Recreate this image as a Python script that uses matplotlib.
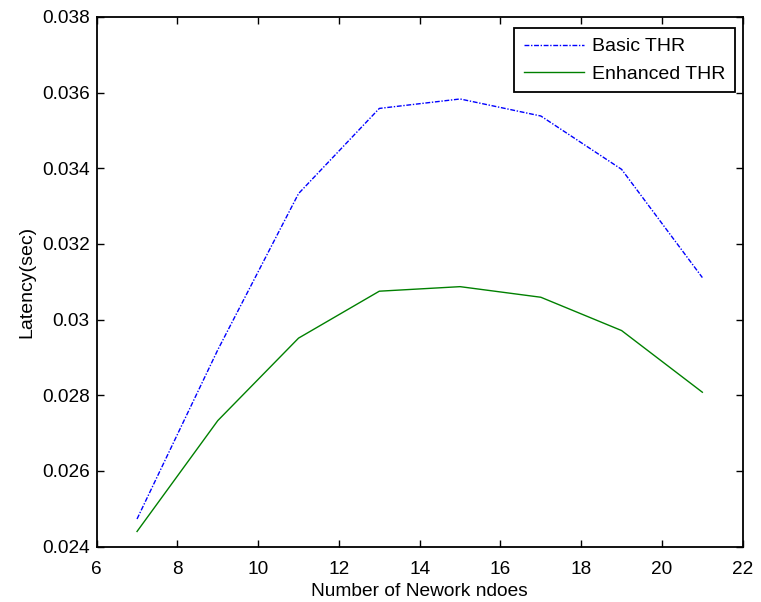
import matplotlib
matplotlib.use("Agg")
import matplotlib.pyplot as plt

plt.rcParams['font.family'] = ['Liberation Sans', 'DejaVu Sans']

# data
nodes = [7, 9, 11, 13, 15, 17, 19, 21]
basic_thr = [0.02473, 0.0292, 0.03333, 0.03558, 0.03583, 0.03538, 0.03397, 0.03111]
enhanced_thr = [0.0244, 0.02733, 0.02951, 0.03075, 0.03087, 0.03059, 0.02971, 0.02808]

xticks = [6, 8, 10, 12, 14, 16, 18, 20, 22]
yticks = [0.024, 0.026, 0.028, 0.03, 0.032, 0.034, 0.036, 0.038]
ytick_labels = ['0.024', '0.026', '0.028', '0.03', '0.032', '0.034', '0.036', '0.038']

fig = plt.figure(figsize=(7.61, 6.02), dpi=100)
ax = fig.add_axes([0.127, 0.092, 0.849, 0.880])

ax.plot(nodes, basic_thr, color='blue', linestyle='-.', dashes=(3.5, 1.2, 1, 1.2),
        linewidth=1.0, label='Basic THR')
ax.plot(nodes, enhanced_thr, color=(0, 0.5, 0), linestyle='-', linewidth=1.0,
        label='Enhanced THR')

ax.set_xlim(6, 22)
ax.set_ylim(0.024, 0.038)
ax.set_xticks(xticks)
ax.set_yticks(yticks)
ax.set_yticklabels(ytick_labels)

ax.tick_params(direction='in', top=True, right=True, length=5, width=1,
               labelsize=13.7)
ax.tick_params(axis='x', pad=10)
ax.tick_params(axis='y', pad=5)
for s in ax.spines.values():
    s.set_linewidth(1.3)

ax.set_xlabel('Number of Nework ndoes', fontsize=13.8, labelpad=4)
ax.set_ylabel('Latency(sec)', fontsize=14, labelpad=5)

leg = ax.legend(loc='upper right', bbox_to_anchor=(0.9876, 0.979), fontsize=14,
                fancybox=False, framealpha=1, edgecolor='black', borderpad=0.5,
                handlelength=3.1, handletextpad=0.4, borderaxespad=0,
                labelspacing=0.5)
leg.get_frame().set_linewidth(1.3)

fig.savefig('out.png', dpi=100)
